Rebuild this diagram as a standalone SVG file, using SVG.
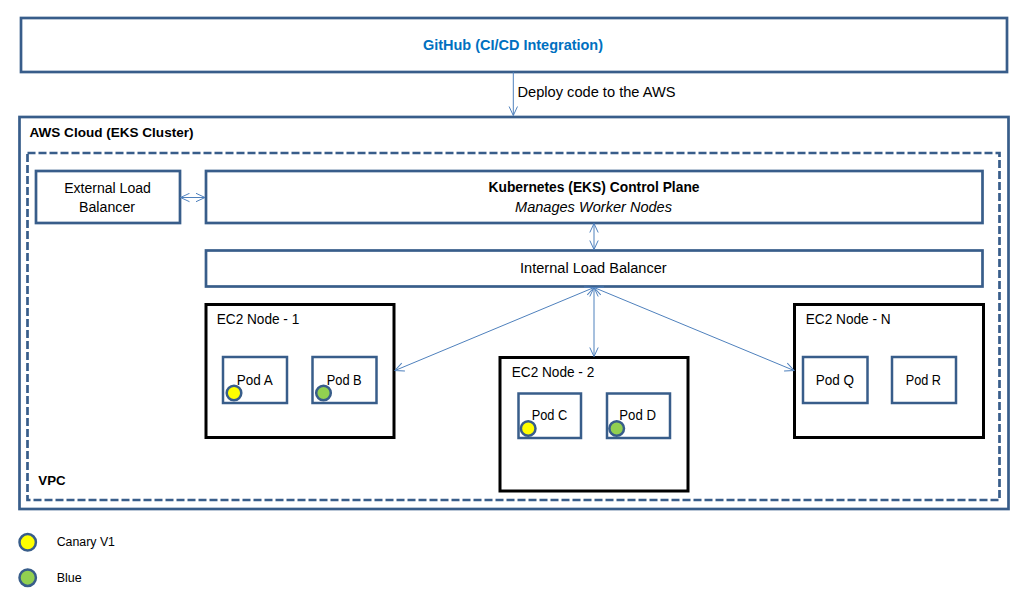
<svg xmlns="http://www.w3.org/2000/svg" width="1025" height="606" viewBox="0 0 1025 606">
<defs>
<style>
.box{fill:#fff;stroke:#385D8A;stroke-width:2.7}
.node{fill:#fff;stroke:#000;stroke-width:3}
.pod{fill:#fff;stroke:#385D8A;stroke-width:2.5}
.vpc{fill:none;stroke:#385D8A;stroke-width:2.7;stroke-dasharray:8 3}
.t{font-family:"Liberation Sans",Arial,sans-serif;font-size:14px;fill:#000}
.b{font-weight:bold}
.i{font-style:italic}
.m{text-anchor:middle}
.conn{stroke:#4F81BD;stroke-width:1;fill:none}
.dot{stroke:#385D8A;stroke-width:2.5}
.canary{fill:#FFFF00}
.blue{fill:#92D050}
</style>
<marker id="ah" viewBox="0 0 10 10" refX="9.5" refY="5" markerWidth="10" markerHeight="10" markerUnits="userSpaceOnUse" orient="auto-start-reverse">
<path d="M0.5,0.8 L9.5,5 L0.5,9.2" fill="none" stroke="#4F81BD" stroke-width="1"/>
</marker>
</defs>
<rect width="1025" height="606" fill="#fff"/>

<g id="github">
<rect class="box" x="21" y="18" width="986" height="54"/>
<text class="t b m" x="513" y="50" style="font-size:14.5px;fill:#0070C0" textLength="180" lengthAdjust="spacingAndGlyphs">GitHub (CI/CD Integration)</text>
</g>

<g id="aws-cloud">
<rect class="box" x="19.5" y="117" width="989" height="392"/>
<text class="t b" x="29.5" y="137" style="font-size:13.5px" textLength="164" lengthAdjust="spacingAndGlyphs">AWS Cloud (EKS Cluster)</text>
</g>

<g id="vpc">
<rect class="vpc" x="27.5" y="153" width="972" height="347"/>
<text class="t b" x="38.3" y="484.5" style="font-size:13.3px" textLength="27.3" lengthAdjust="spacingAndGlyphs">VPC</text>
</g>

<g id="external-lb">
<rect class="box" x="36" y="171" width="144" height="52"/>
<text class="t m" x="107.5" y="192.5" textLength="86.7" lengthAdjust="spacingAndGlyphs">External Load</text>
<text class="t m" x="107" y="211.5" textLength="56" lengthAdjust="spacingAndGlyphs">Balancer</text>
</g>

<g id="control-plane">
<rect class="box" x="206" y="171" width="776.5" height="52"/>
<text class="t b m" x="594" y="191.5" textLength="211" lengthAdjust="spacingAndGlyphs">Kubernetes (EKS) Control Plane</text>
<text class="t i m" x="593.5" y="211.5" textLength="157" lengthAdjust="spacingAndGlyphs">Manages Worker Nodes</text>
</g>

<g id="internal-lb">
<rect class="box" x="206" y="250.5" width="776.5" height="36"/>
<text class="t" x="520" y="273" textLength="146.7" lengthAdjust="spacingAndGlyphs">Internal Load Balancer</text>
</g>

<g id="ec2-node-1">
<rect class="node" x="206" y="304.5" width="188" height="133"/>
<text class="t" x="216.7" y="323.5" textLength="82.6" lengthAdjust="spacingAndGlyphs">EC2 Node - 1</text>
</g>
<g id="pod-a">
<rect class="pod" x="223" y="357" width="64" height="46"/>
<text class="t" x="236.7" y="384.5" textLength="36" lengthAdjust="spacingAndGlyphs">Pod A</text>
<circle class="dot canary" cx="234" cy="393" r="7.3"/>
</g>
<g id="pod-b">
<rect class="pod" x="312.5" y="357" width="64" height="46"/>
<text class="t" x="326.7" y="384.5" textLength="35" lengthAdjust="spacingAndGlyphs">Pod B</text>
<circle class="dot blue" cx="323.5" cy="393" r="7.3"/>
</g>

<g id="ec2-node-2">
<rect class="node" x="500" y="357.5" width="188" height="133.5"/>
<text class="t" x="511.7" y="377" textLength="82.6" lengthAdjust="spacingAndGlyphs">EC2 Node - 2</text>
</g>
<g id="pod-c">
<rect class="pod" x="518.5" y="393.5" width="62.5" height="44.5"/>
<text class="t" x="531.7" y="419.5" textLength="35.6" lengthAdjust="spacingAndGlyphs">Pod C</text>
<circle class="dot canary" cx="528.2" cy="428.5" r="7.3"/>
</g>
<g id="pod-d">
<rect class="pod" x="607" y="393.5" width="63" height="44.5"/>
<text class="t" x="619.3" y="419.5" textLength="36.7" lengthAdjust="spacingAndGlyphs">Pod D</text>
<circle class="dot blue" cx="616.7" cy="428.5" r="7.3"/>
</g>

<g id="ec2-node-n">
<rect class="node" x="794.5" y="304.5" width="189" height="133"/>
<text class="t" x="805.7" y="324" textLength="85" lengthAdjust="spacingAndGlyphs">EC2 Node - N</text>
</g>
<g id="pod-q">
<rect class="pod" x="803" y="357" width="64.5" height="46"/>
<text class="t" x="815.7" y="384.5" textLength="38.3" lengthAdjust="spacingAndGlyphs">Pod Q</text>
</g>
<g id="pod-r">
<rect class="pod" x="892" y="357" width="64" height="46"/>
<text class="t" x="905.7" y="384.5" textLength="35.3" lengthAdjust="spacingAndGlyphs">Pod R</text>
</g>

<g id="connectors">
<line class="conn" x1="513.3" y1="72" x2="513.3" y2="115.5" marker-end="url(#ah)"/>
<text class="t" x="517.5" y="97" textLength="158" lengthAdjust="spacingAndGlyphs">Deploy code to the AWS</text>
<line class="conn" x1="180.5" y1="197.5" x2="205" y2="197.5" marker-start="url(#ah)" marker-end="url(#ah)"/>
<line class="conn" x1="594" y1="223.5" x2="594" y2="249.5" marker-start="url(#ah)" marker-end="url(#ah)"/>
<line class="conn" x1="594" y1="287.5" x2="395" y2="370.5" marker-start="url(#ah)" marker-end="url(#ah)"/>
<line class="conn" x1="594" y1="287.5" x2="594" y2="356.5" marker-start="url(#ah)" marker-end="url(#ah)"/>
<line class="conn" x1="594" y1="287.5" x2="794" y2="370.5" marker-start="url(#ah)" marker-end="url(#ah)"/>
</g>

<g id="legend">
<circle class="dot canary" cx="27.7" cy="542.3" r="8.2"/>
<text class="t" x="56.7" y="546" style="font-size:12.3px" textLength="58.3" lengthAdjust="spacingAndGlyphs">Canary V1</text>
<circle class="dot blue" cx="27.7" cy="577.7" r="8.2"/>
<text class="t" x="56.7" y="581.5" style="font-size:12.3px" textLength="25" lengthAdjust="spacingAndGlyphs">Blue</text>
</g>
</svg>
